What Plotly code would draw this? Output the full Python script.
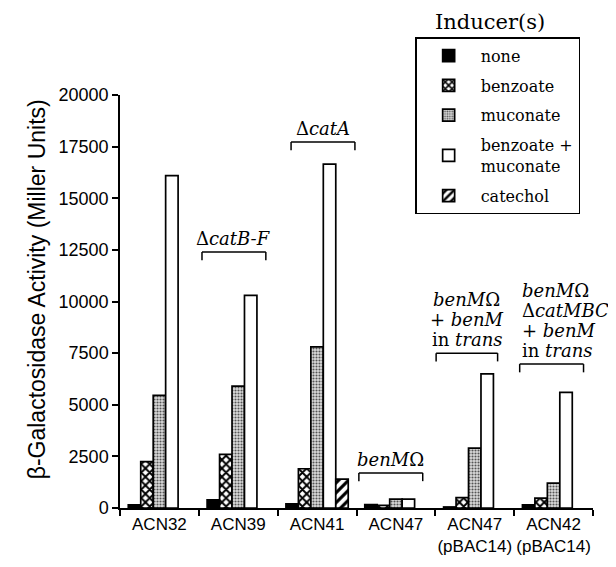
import plotly.graph_objects as go

# ---------------- data ----------------
strains = ["ACN32", "ACN39", "ACN41", "ACN47", "ACN47<br>(pBAC14)", "ACN42<br>(pBAC14)"]
inducers = ["none", "benzoate", "muconate", "benzoate +<br>muconate", "catechol"]
none_vals = [150, 400, 200, 160, 50, 150]
benzoate_vals = [2250, 2600, 1900, 130, 500, 480]
muconate_vals = [5450, 5900, 7800, 430, 2900, 1200]
benz_muc_vals = [16100, 10300, 16650, 430, 6500, 5600]
catechol_vals = [None, None, 1400, None, None, None]
y_ticks = [0, 2500, 5000, 7500, 10000, 12500, 15000, 17500, 20000]

series = [none_vals, benzoate_vals, muconate_vals, benz_muc_vals, catechol_vals]

# ---------------- styles ----------------
patterns = [
    dict(shape="", fillmode="overlay"),
    dict(shape="x", fgcolor="black", bgcolor="white", size=6, solidity=0.55, fillmode="replace"),
    dict(shape=".", fgcolor="#555555", bgcolor="#dcdcdc", size=3, solidity=0.4, fillmode="replace"),
    dict(shape="", fillmode="overlay"),
    dict(shape="/", fgcolor="black", bgcolor="white", size=7, solidity=0.45, fillmode="replace"),
]
colors = ["black", "white", "#dcdcdc", "white", "white"]

fig = go.Figure()
for name, vals, pat, col in zip(inducers, series, patterns, colors):
    fig.add_trace(go.Bar(
        x=strains, y=vals, name=name, legendgroup=name,
        marker=dict(color=col, pattern=pat, line=dict(color="black", width=1.7)),
    ))

# ---------------- brackets with labels ----------------
# (category index, left offset, right offset, bracket level, text lines, alignment)
brackets = [
    (1, -0.46, 0.35, 12400, ["Δ<i>catB-F</i>"], "center"),
    (2, -0.33, 0.48, 17720, ["Δ<i>catA</i>"], "center"),
    (3, -0.47, 0.34, 1700, ["<i>benM</i>Ω"], "center"),
    (4, -0.49, 0.29, 7500, ["<i>benM</i>Ω", "+ <i>benM</i>", "in <i>trans</i>"], "center"),
    (5, -0.43, 0.38, 6970, ["<i>benM</i>Ω", "Δ<i>catMBC</i>", "+ <i>benM</i>", "in <i>trans</i>"], "left"),
]
drop = 400
shapes = []
annotations = []
serif = "DejaVu Serif"
for idx, lo, hi, lvl, lines, align in brackets:
    x0, x1 = idx + lo, idx + hi
    for (a, b, c, d) in [(x0, lvl, x1, lvl), (x0, lvl - drop, x0, lvl), (x1, lvl - drop, x1, lvl)]:
        shapes.append(dict(type="line", xref="x", yref="y", x0=a, y0=b, x1=c, y1=d,
                           line=dict(color="black", width=1.5)))
    n = len(lines)
    for i, txt in enumerate(lines):
        annotations.append(dict(
            x=x0 if align == "left" else (x0 + x1) / 2, y=lvl, xref="x", yref="y",
            xanchor="left" if align == "left" else "center", yanchor="bottom",
            yshift=1 + (n - 1 - i) * 20, text=txt, showarrow=False,
            font=dict(family=serif, size=18, color="black"),
        ))

annotations.append(dict(
    x=0.782, y=1.177, xref="paper", yref="paper", xanchor="center", yanchor="middle",
    text="Inducer(s)", showarrow=False, font=dict(family=serif, size=21, color="black"),
))
annotations.append(dict(
    x=-0.175, y=0.53, xref="paper", yref="paper", xanchor="center", yanchor="middle",
    text="β-Galactosidase Activity (Miller Units)", textangle=-90, showarrow=False,
    font=dict(family="Liberation Sans", size=23, color="black"),
))

# the page body adds an 8 px margin, so the figure is 8 px smaller on each axis
fig.update_layout(
    width=608, height=559,
    margin=dict(l=112, r=23, t=87, b=59, autoexpand=False),
    paper_bgcolor="white", plot_bgcolor="white",
    barmode="group", bargap=0.21, bargroupgap=0,
    showlegend=True,
    legend=dict(x=0.624, y=1.14, xanchor="left", yanchor="top",
                bordercolor="black", borderwidth=1.5, bgcolor="white",
                font=dict(family="DejaVu Serif", size=16, color="black"),
                tracegroupgap=6, traceorder="grouped", itemwidth=54),
    shapes=shapes, annotations=annotations,
    xaxis=dict(range=[-0.5, 5.5], showline=True, linecolor="black", linewidth=1.5,
               ticks="outside", tickson="boundaries", ticklen=6, tickcolor="black",
               tickwidth=1.5, showgrid=False, tickangle=0, automargin=False,
               tickfont=dict(family="Liberation Sans", size=17, color="black")),
    yaxis=dict(range=[0, 20000], tickvals=y_ticks, ticktext=[str(v) for v in y_ticks],
               showline=True, linecolor="black", linewidth=1.5, ticks="outside",
               ticklen=6, tickcolor="black", tickwidth=1.5, showgrid=False, zeroline=False,
               automargin=False,
               tickfont=dict(family="Liberation Sans", size=18, color="black")),
)

fig.write_html("out.html")
